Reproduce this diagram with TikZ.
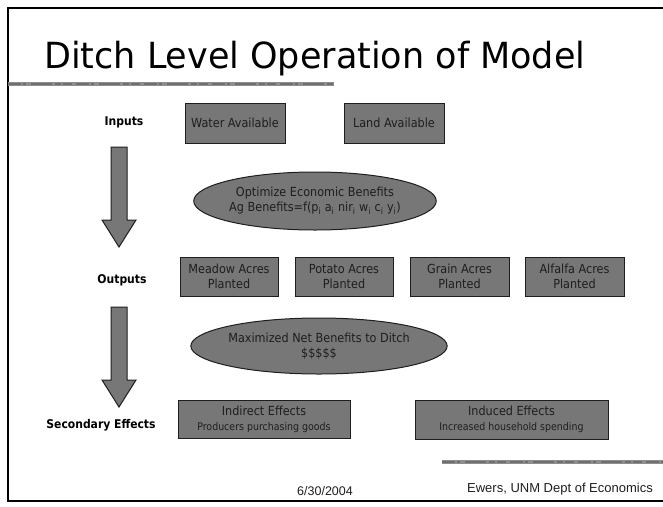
\documentclass[tikz,border=0pt]{standalone}
\usepackage{graphicx}
\usepackage{fontspec}
\setmainfont{Liberation Sans}
\newfontfamily\boxfont{DejaVu Sans Condensed}
\usetikzlibrary{positioning,shapes.geometric}
\definecolor{slgray}{HTML}{777777}
\definecolor{slink}{HTML}{1E1E1E}
\definecolor{slrule}{HTML}{8E8E8E}
\definecolor{slspeck}{HTML}{4A4A4A}
\tikzset{
  grayBox/.style={draw=slink, fill=slgray, line width=1pt, align=center, inner sep=0pt, text=slink, font=\boxfont\fontsize{12.5}{15}\selectfont},
  grayOval/.style={ellipse, draw=slink, fill=slgray, line width=1pt, align=center, inner sep=0pt, text=slink, font=\boxfont\fontsize{12.5}{15}\selectfont},
  rowLabel/.style={font=\boxfont\bfseries\fontsize{12}{14}\selectfont, text=black},
  footLabel/.style={font=\fontsize{12.5}{15}\selectfont, text=slink},
  flowArrow/.style={draw=slink, fill=slgray, line width=1pt, line join=miter},
  decoRule/.style={draw=slrule, line width=4.5pt},
  decoSpeck/.style={draw=slspeck, opacity=0.45, line width=2.5pt, dash pattern=on 13pt off 2pt on 3pt off 5pt on 21pt off 3pt on 6pt off 2pt on 9pt off 4pt}
}

\begin{document}
\begin{tikzpicture}[x=1pt, y=-1pt]
  \useasboundingbox (0,0) rectangle (663,506);
  \draw[line width=1.8pt] (663,8) -- (8,8) -- (8,501) -- (663,501);

  \node[anchor=base west, inner sep=0pt, font=\boxfont\fontsize{36}{40}\selectfont] (title) at (44,68) {\scalebox{1.08}[1]{Ditch Level Operation of Model}};
  \draw[decoRule] (8,84) -- (334,84);
  \draw[decoSpeck] (8,84) -- (334,84);
  \draw[decoRule, line width=3.5pt] (442,462) -- (663,462);
  \draw[decoSpeck, line width=2pt] (442,462) -- (663,462);

  % inputs
  \node[rowLabel] (inputs) at (124,122) {Inputs};
  \node[grayBox, minimum width=100pt, minimum height=40pt] (water) at (235,123) {Water Available};
  \node[grayBox, minimum width=100pt, minimum height=40pt] (land) at (394,123) {Land Available};

  \node[grayOval, minimum width=195pt, minimum height=58pt] (optimize) at (315,201)
    {Optimize Economic Benefits\\ Ag Benefits=f(p\textsubscript{i} a\textsubscript{i} nir\textsubscript{i} w\textsubscript{i} c\textsubscript{i} y\textsubscript{i})};

  % outputs
  \node[rowLabel] (outputs) at (122,280) {Outputs};
  \node[grayBox, minimum width=98pt, minimum height=39pt] (meadow) at (229,276.5) {Meadow Acres\\ Planted};
  \node[grayBox, minimum width=98pt, minimum height=39pt] (potato) at (344,276.5) {Potato Acres\\ Planted};
  \node[grayBox, minimum width=99pt, minimum height=39pt] (grain) at (459.5,276.5) {Grain Acres\\ Planted};
  \node[grayBox, minimum width=99pt, minimum height=39pt] (alfalfa) at (574.5,276.5) {Alfalfa Acres\\ Planted};

  \node[grayOval, minimum width=208pt, minimum height=56pt] (netben) at (319,346)
    {Maximized Net Benefits to Ditch\\ \$\$\$\$\$};

  % secondary effects
  \node[rowLabel] (second) at (101,425) {Secondary Effects};
  \node[grayBox, minimum width=172pt, minimum height=38pt] (indirect) at (264,419)
    {Indirect Effects\\ {\fontsize{10.5}{12}\selectfont Producers purchasing goods}};
  \node[grayBox, minimum width=193pt, minimum height=39pt] (induced) at (511.5,419.5)
    {Induced Effects\\ {\fontsize{10.5}{12}\selectfont Increased household spending}};

  \draw[flowArrow] (111,147) -- (127,147) -- (127,220) -- (136,220) -- (119,247) -- (102,220) -- (111,220) -- cycle;
  \draw[flowArrow] (111,307) -- (127,307) -- (127,380) -- (136,380) -- (119,407) -- (102,380) -- (111,380) -- cycle;

  \node[footLabel] (date) at (325,491) {6/30/2004};
  \node[footLabel, font=\fontsize{13}{15}\selectfont] (author) at (560,489) {Ewers, UNM Dept of Economics};
\end{tikzpicture}
\end{document}
